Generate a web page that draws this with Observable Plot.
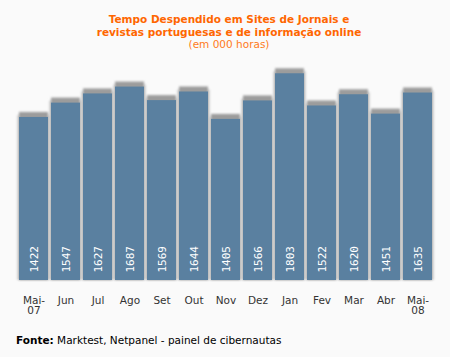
<!DOCTYPE html>
<html>
<head>
<meta charset="utf-8">
<script src="https://cdn.jsdelivr.net/npm/d3@7"></script>
<script src="https://cdn.jsdelivr.net/npm/@observablehq/plot@0.6"></script>
<style>
  html, body { margin: 0; padding: 0; background: #fafafa; width: 450px; height: 357px; overflow: hidden; }
  #title { position: absolute; left: 0; top: 13px; width: 458px; text-align: center; font-family: "DejaVu Sans", Verdana, sans-serif; color: #ff6600; font-size: 10.5px; line-height: 12.5px; }
  #title b { font-weight: bold; }
  #title .sub { color: #ff7a1a; }
  #chart { position: absolute; left: 0; top: 55px; }
  #foot { position: absolute; left: 16px; top: 334px; font-family: "DejaVu Sans", Verdana, sans-serif; font-size: 10.5px; color: #000; }
</style>
</head>
<body>
<div id="title"><b>Tempo Despendido em Sites de Jornais e<br>revistas portuguesas e de informação online</b><br><span class="sub">(em 000 horas)</span></div>
<div id="chart"></div>
<div id="foot"><b>Fonte:</b> Marktest, Netpanel - painel de cibernautas</div>
<script>
const months = ["Mai-\n07","Jun","Jul","Ago","Set","Out","Nov","Dez","Jan","Fev","Mar","Abr","Mai-\n08"];
const values = [1422,1547,1627,1687,1569,1644,1405,1566,1803,1522,1620,1451,1635];
const data = months.map((m, i) => ({month: m, value: values[i]}));

const plot = Plot.plot({
  width: 450,
  height: 275,
  marginTop: 10,
  marginBottom: 50,
  marginLeft: 13,
  marginRight: 12,
  style: {background: "transparent", fontFamily: "DejaVu Sans, Verdana, sans-serif", fontSize: "10.5px", color: "#333"},
  x: {domain: months, range: [13, 437.5], paddingInner: 0.09, paddingOuter: 0, label: null, tickSize: 0, tickPadding: 16},
  y: {domain: [0, 1875], axis: null},
  marks: [
    Plot.barY(data, {x: "month", y: "value", fill: "#d6d6d6", insetLeft: -2, insetRight: -2, insetTop: -2}),
    Plot.barY(data, {x: "month", y: "value", fill: "#9c9c9c", insetLeft: 0, insetRight: 0, insetTop: -5}),
    Plot.barY(data, {x: "month", y: "value", fill: "#5a80a0"}),
    Plot.text(data, {x: "month", y: 0, text: d => String(d.value), rotate: -90, textAnchor: "start", dy: -8, fill: "white", fontFamily: "DejaVu Sans Mono, monospace", fontSize: 11})
  ]
});

// soft blur for the shadow layers
const svg = plot;
const defs = document.createElementNS("http://www.w3.org/2000/svg", "defs");
defs.innerHTML = '<filter id="soft" x="-20%" y="-20%" width="140%" height="140%"><feGaussianBlur stdDeviation="1"/></filter>';
svg.insertBefore(defs, svg.firstChild);
const bars = svg.querySelectorAll('g[aria-label="bar"]');
bars[0].setAttribute("filter", "url(#soft)");
bars[1].setAttribute("filter", "url(#soft)");
document.getElementById("chart").appendChild(plot);
</script>
</body>
</html>
